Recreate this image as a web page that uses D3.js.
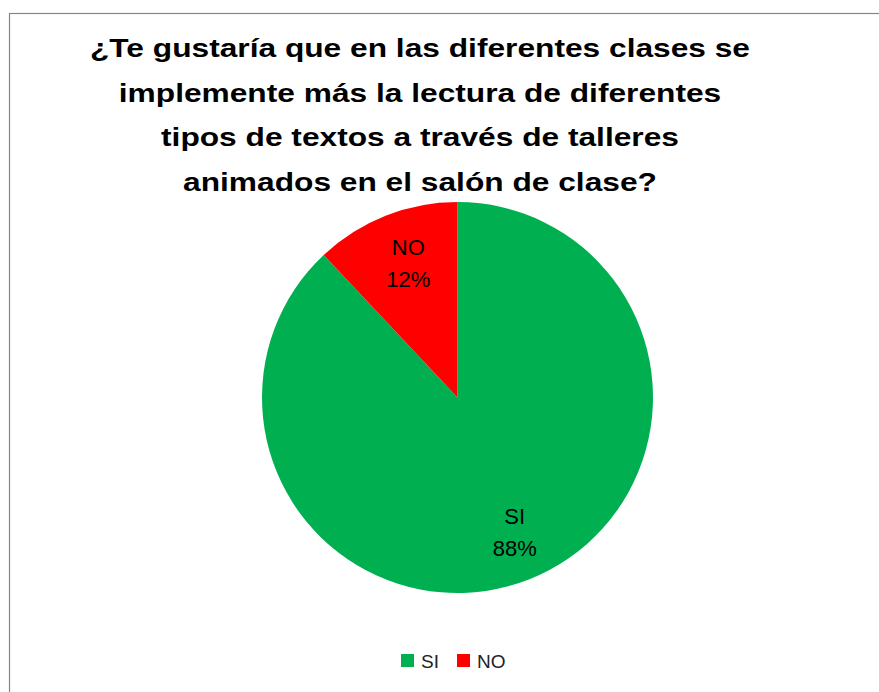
<!DOCTYPE html>
<html>
<head>
<meta charset="utf-8">
<script src="https://cdn.jsdelivr.net/npm/d3@7"></script>
<style>
  html, body { margin: 0; padding: 0; background: #ffffff; }
  svg { display: block; }
</style>
</head>
<body>
<script>
// ---- data ----
const titleLines = [
  "¿Te gustaría que en las diferentes clases se",
  "implemente más la lectura de diferentes",
  "tipos de textos a través de talleres",
  "animados en el salón de clase?"
];
const categories = ["SI", "NO"];
const values = [88, 12];
const colors = ["#00B050", "#FF0000"];

// ---- layout ----
const W = 879, H = 692;
const svg = d3.select("body").append("svg").attr("width", W).attr("height", H);

svg.append("rect")
  .attr("x", 9.5).attr("y", 13.5)
  .attr("width", W + 20).attr("height", H + 20)
  .attr("fill", "#ffffff")
  .attr("stroke", "#868686").attr("stroke-width", 1.2);

// Title
const titleCX = 420;
const titleG = svg.append("g");
const tl = titleG.selectAll("text").data(titleLines).join("text")
  .attr("x", titleCX)
  .attr("y", (d, i) => 57 + i * 44.7)
  .attr("text-anchor", "middle")
  .attr("font-family", "'Liberation Sans', Arial, sans-serif")
  .attr("font-weight", "bold")
  .attr("font-size", 25)
  .attr("fill", "#000")
  .text(d => d);
// compress uniformly to mimic the narrow original face
const natural0 = tl.nodes()[0].getComputedTextLength();
const s = 660 / natural0;
tl.each(function() {
  const w = this.getComputedTextLength() * s;
  d3.select(this).attr("textLength", w).attr("lengthAdjust", "spacingAndGlyphs");
});

// Pie
const cx = 457.5, cy = 397.5, r = 195.5;
const pie = d3.pie().sort(null).value(d => d.v);
const data = categories.map((c, i) => ({ c, v: values[i], col: colors[i] }));
const arcs = pie(data);
const arc = d3.arc().innerRadius(0).outerRadius(r);
const labelArc = d3.arc().innerRadius(r * 0.74).outerRadius(r * 0.74);
const total = d3.sum(values);

const g = svg.append("g").attr("transform", `translate(${cx},${cy})`);
g.selectAll("path").data(arcs).join("path")
  .attr("d", arc)
  .attr("fill", d => d.data.col);

const lab = g.selectAll("g.lab").data(arcs).join("g").attr("class", "lab")
  .attr("transform", d => {
    const [x, y] = labelArc.centroid(d);
    return `translate(${x + 4},${y})`;
  });
lab.append("text")
  .attr("text-anchor", "middle")
  .attr("y", -8)
  .attr("font-family", "'Liberation Sans', Arial, sans-serif")
  .attr("font-size", 22)
  .attr("fill", "#000")
  .text(d => d.data.c);
lab.append("text")
  .attr("text-anchor", "middle")
  .attr("y", 24)
  .attr("font-family", "'Liberation Sans', Arial, sans-serif")
  .attr("font-size", 22)
  .attr("fill", "#000")
  .text(d => Math.round(d.data.v / total * 100) + "%");

// Legend
const legend = svg.append("g").attr("transform", "translate(401,654)");
const li = legend.selectAll("g").data(data).join("g")
  .attr("transform", (d, i) => `translate(${i * 56},0)`);
li.append("rect").attr("width", 13).attr("height", 13).attr("fill", d => d.col);
li.append("text")
  .attr("x", 20).attr("y", 13.5)
  .attr("font-family", "'Liberation Sans', Arial, sans-serif")
  .attr("font-size", 19)
  .attr("fill", "#222")
  .text(d => d.c);
</script>
</body>
</html>
